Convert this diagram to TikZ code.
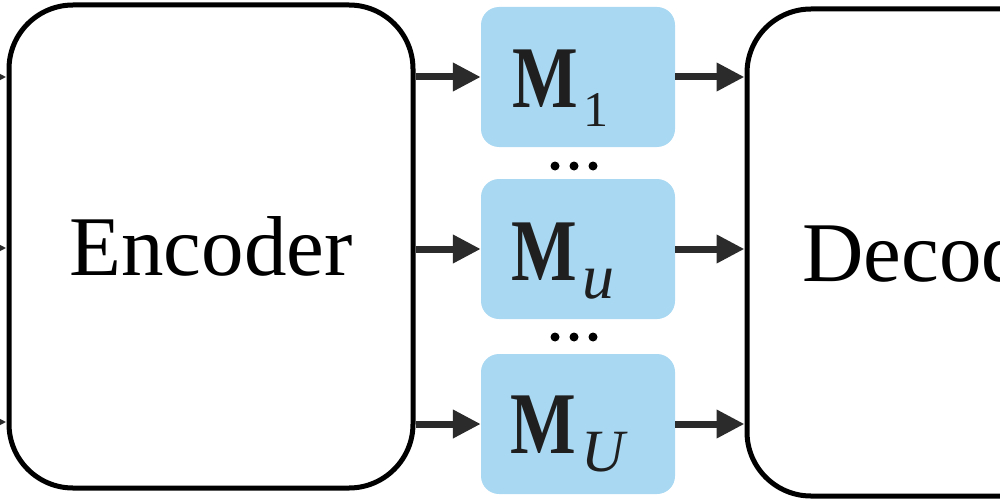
\documentclass[tikz,border=0pt]{standalone}
\usepackage{fontspec}
\setmainfont{Liberation Serif}
\usetikzlibrary{arrows.meta,calc}
\definecolor{mblue}{HTML}{A8D8F2}
\definecolor{arr}{HTML}{2B2B2B}
\newcommand\mlab[1]{\scalebox{0.79}[1]{\fontsize{88}{90}\selectfont\bfseries M}\kern6pt\raisebox{-18pt}{#1}}
\begin{document}
\begin{tikzpicture}[x=1pt,y=-1pt,
  bigbox/.style={draw=black,line width=5pt,rounded corners=64pt,fill=white,inner sep=0pt,font=\fontsize{85}{90}\selectfont},
  mbox/.style={fill=mblue,rounded corners=18pt,minimum width=194pt,minimum height=140pt,inner sep=0pt},
  lbl/.style={anchor=base west,inner sep=0pt,text=black!88},
  flow/.style={draw=arr,line width=7pt,-{Triangle[length=28pt,width=27pt]}},
  dot/.style={circle,fill=black,inner sep=0pt,minimum size=9pt}]
\useasboundingbox (0,0) rectangle (1000,500);
\clip (0,0) rectangle (1000,500);

\node[bigbox,minimum width=404pt,minimum height=483pt] (enc) at (211,246.5) {Encoder};
\node[bigbox,minimum width=399pt,minimum height=487pt] (dec) at (946.5,252.5) {Decoder};

\node[mbox] (m1) at (578,77) {};
\node[mbox] (mu) at (578,249) {};
\node[mbox] (mU) at (578,424) {};

\node[lbl] (l1) at (512,108) {\mlab{\fontsize{50}{52}\selectfont 1}};
\node[lbl] (lu) at (511,280) {\mlab{\fontsize{64}{66}\selectfont\itshape u}};
\node[lbl] (lU) at (510,453) {\mlab{\fontsize{60}{62}\selectfont\itshape U}};

\node[dot] (da1) at (555,166) {};
\node[dot] (da2) at (574,166) {};
\node[dot] (da3) at (593,166) {};
\node[dot] (db1) at (555,337) {};
\node[dot] (db2) at (574,337) {};
\node[dot] (db3) at (593,337) {};

\coordinate (in1) at (-60,77);
\coordinate (in2) at (-60,248);
\coordinate (in3) at (-60,422);
\draw[flow] (in1) -- (in1 -| enc.west);
\draw[flow] (in2) -- (in2 -| enc.west);
\draw[flow] (in3) -- (in3 -| enc.west);

\draw[flow] (enc.east |- m1) -- (m1.west);
\draw[flow] (enc.east |- mu) -- (mu.west);
\draw[flow] (enc.east |- mU) -- (mU.west);

\draw[flow] (m1.east) -- (m1 -| dec.west);
\draw[flow] (mu.east) -- (mu -| dec.west);
\draw[flow] (mU.east) -- (mU -| dec.west);
\end{tikzpicture}
\end{document}
